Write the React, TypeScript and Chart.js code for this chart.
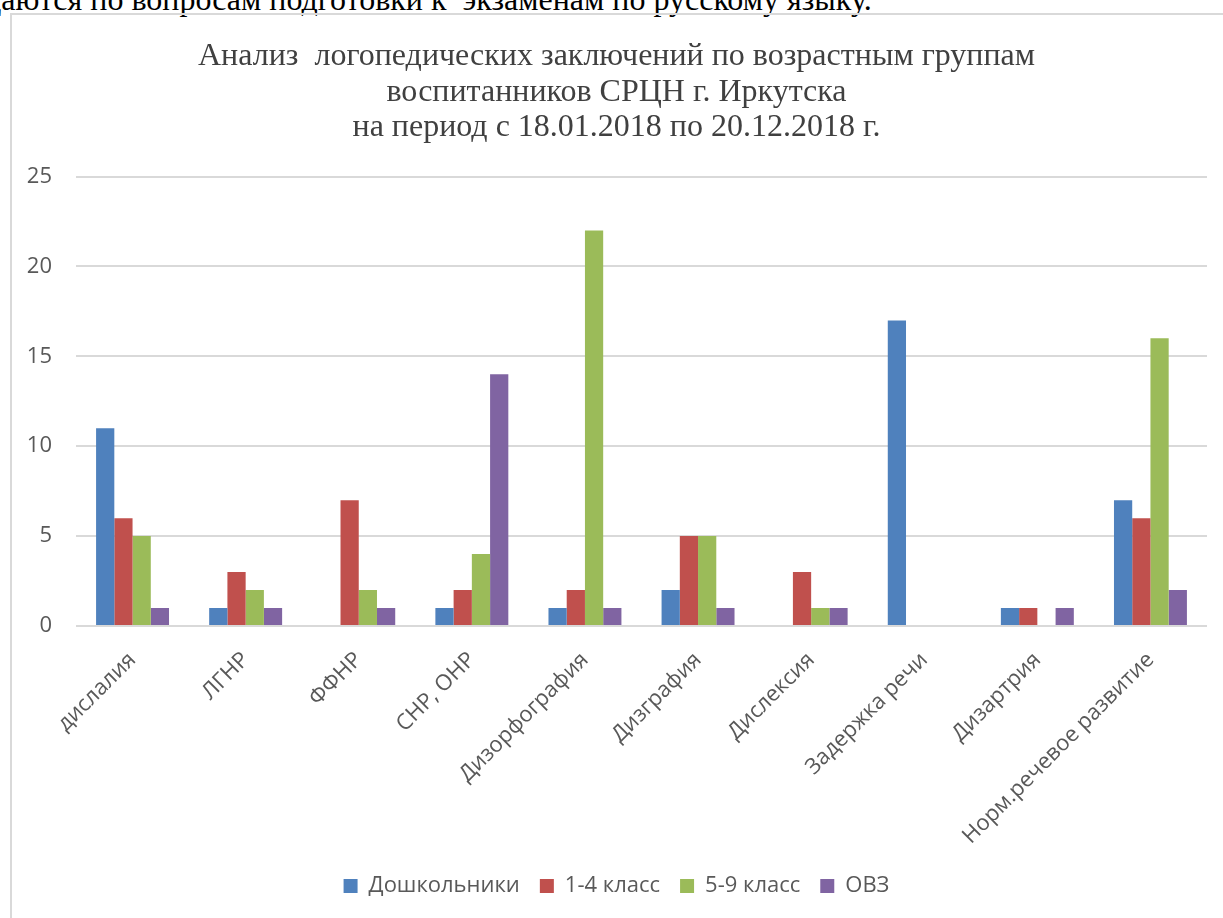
import React, { useEffect, useRef } from "react";
import { Chart, registerables } from "chart.js";

Chart.register(...registerables);

const categories = [
  "дислалия",
  "ЛГНР",
  "ФФНР",
  "СНР, ОНР",
  "Дизорфография",
  "Дизграфия",
  "Дислексия",
  "Задержка речи",
  "Дизартрия",
  "Норм.речевое развитие",
];

const seriesNames = ["Дошкольники", "1-4 класс", "5-9 класс", "ОВЗ"];

const preschool = [11, 1, 0, 1, 1, 2, 0, 17, 1, 7];
const grade1to4 = [6, 3, 7, 2, 2, 5, 3, 0, 1, 6];
const grade5to9 = [5, 2, 2, 4, 22, 5, 1, 0, 0, 16];
const ovz = [1, 1, 1, 14, 1, 1, 1, 0, 1, 2];

const yTicks = [0, 5, 10, 15, 20, 25];

const titleLines = [
  "Анализ  логопедических заключений по возрастным группам",
  "воспитанников СРЦН г. Иркутска",
  "на период с 18.01.2018 по 20.12.2018 г.",
];

const colors = ["#4F81BD", "#C0504D", "#9BBB59", "#8064A2"];

export default function App() {
  const ref = useRef<HTMLCanvasElement>(null);

  useEffect(() => {
    const canvas = ref.current;
    if (!canvas) return;
    const values = [preschool, grade1to4, grade5to9, ovz];
    const chart = new Chart(canvas, {
      type: "bar",
      data: {
        labels: categories,
        datasets: seriesNames.map((name, i) => ({
          label: name,
          data: values[i],
          backgroundColor: colors[i],
          borderWidth: 0,
          categoryPercentage: 0.645,
          barPercentage: 1,
        })),
      },
      options: {
        animation: false,
        responsive: false,
        maintainAspectRatio: false,
        layout: { padding: { left: 26, right: 16, top: 0, bottom: 11 } },
        plugins: {
          tooltip: { enabled: false },
          title: {
            display: true,
            text: titleLines,
            color: "#404040",
            font: { family: "'Liberation Serif', 'Times New Roman', serif", size: 32, weight: "normal", lineHeight: 1.11 },
            padding: { top: 39, bottom: 31 },
          },
          legend: {
            position: "bottom",
            labels: {
              boxWidth: 14,
              boxHeight: 14,
              padding: 20,
              color: "#595959",
              font: { family: "'Open Sans', sans-serif", size: 22 },
            },
          },
        },
        scales: {
          x: {
            grid: { display: false, drawTicks: false },
            border: { display: false },
            ticks: {
              autoSkip: false,
              maxRotation: 45,
              minRotation: 45,
              padding: 21,
              color: "#595959",
              font: { family: "'Open Sans', sans-serif", size: 22 },
            },
            afterFit: (s: any) => {
              s.height = 229;
            },
          },
          y: {
            min: 0,
            max: 25,
            afterBuildTicks: (s: any) => {
              s.ticks = yTicks.map((v) => ({ value: v }));
            },
            grid: { color: "#d9d9d9", lineWidth: 2, drawTicks: false },
            border: { display: false },
            ticks: {
              padding: 24,
              color: "#595959",
              font: { family: "'Open Sans', sans-serif", size: 22 },
            },
            afterFit: (s: any) => {
              s.width = 50;
            },
          },
        },
      },
    });
    return () => chart.destroy();
  }, []);

  return (
    <div
      style={{
        position: "fixed",
        left: 0,
        top: 0,
        width: 1223,
        height: 918,
        overflow: "hidden",
        background: "#fff",
      }}
    >
      <div
        style={{
          position: "absolute",
          left: -15,
          top: -17,
          whiteSpace: "pre",
          fontFamily: "'Liberation Serif', 'Times New Roman', serif",
          fontSize: 32,
          lineHeight: "32px",
          color: "#000",
        }}
      >
        {"даются по вопросам подготовки к  экзаменам по русскому языку."}
      </div>
      <div
        style={{
          position: "absolute",
          left: 10,
          top: 13,
          width: 1300,
          height: 1000,
          borderLeft: "2px solid #d9d9d9",
          borderTop: "2px solid #d9d9d9",
        }}
      />
      <canvas
        ref={ref}
        width={1223}
        height={918}
        style={{ position: "absolute", left: 0, top: 0, width: 1223, height: 918 }}
      />
    </div>
  );
}
